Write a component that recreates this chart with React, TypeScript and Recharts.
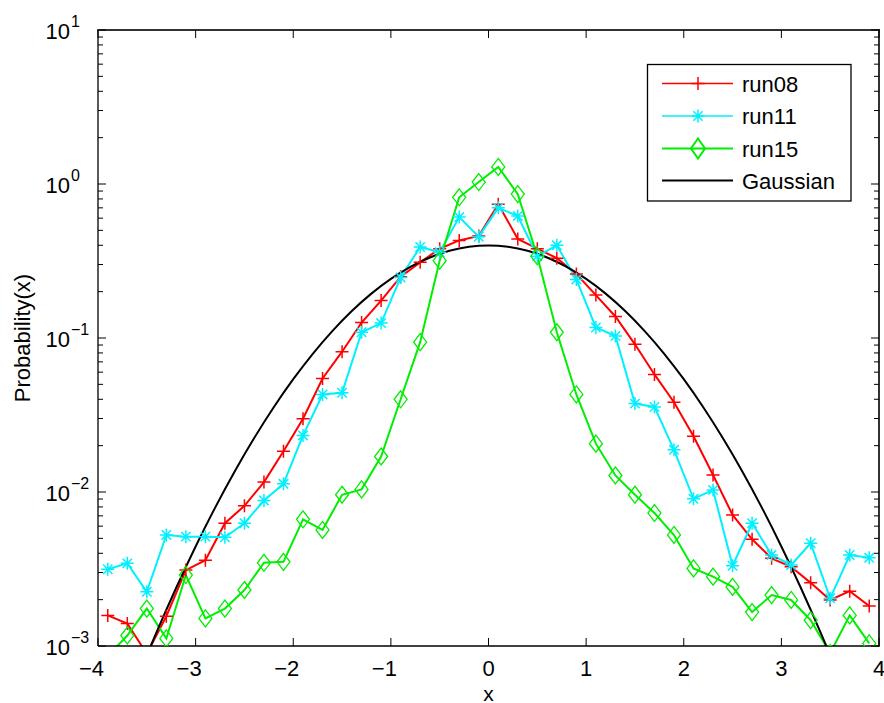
import React from 'react';
import { LineChart, Line, XAxis, YAxis } from 'recharts';

const FONT = '"Liberation Sans", Arial, Helvetica, sans-serif';

const xValues = [
  -3.9, -3.7, -3.5, -3.3, -3.1, -2.9, -2.7, -2.5, -2.3, -2.1,
  -1.9, -1.7, -1.5, -1.3, -1.1, -0.9, -0.7, -0.5, -0.3, -0.1,
  0.1, 0.3, 0.5, 0.7, 0.9, 1.1, 1.3, 1.5, 1.7, 1.9,
  2.1, 2.3, 2.5, 2.7, 2.9, 3.1, 3.3, 3.5, 3.7, 3.9,
];

const run08 = [
  0.00158, 0.0014, 0.00089, 0.00156, 0.00311, 0.00361, 0.00627, 0.00813, 0.0116, 0.0184,
  0.0299, 0.0546, 0.0815, 0.126, 0.175, 0.25, 0.31, 0.38, 0.43, 0.46,
  0.74, 0.44, 0.38, 0.33, 0.26, 0.19, 0.138, 0.091, 0.058, 0.0383,
  0.023, 0.0129, 0.0071, 0.00493, 0.00371, 0.00327, 0.00257, 0.00199, 0.00227, 0.00182,
];

const run11 = [
  0.00315, 0.00344, 0.00225, 0.00526, 0.00513, 0.00513, 0.00508, 0.00627, 0.00881, 0.0113,
  0.0233, 0.043, 0.0441, 0.109, 0.125, 0.247, 0.39, 0.36, 0.61, 0.455,
  0.7, 0.62, 0.34, 0.4, 0.24, 0.117, 0.103, 0.0375, 0.0357, 0.0188,
  0.00904, 0.0103, 0.00332, 0.00627, 0.0039, 0.00336, 0.00465, 0.00204, 0.0039, 0.00374,
];

const run15 = [
  0.00086, 0.00117, 0.00175, 0.00112, 0.00289, 0.00151, 0.00175, 0.00231, 0.00347, 0.00352,
  0.00665, 0.00567, 0.0096, 0.0104, 0.017, 0.04, 0.094, 0.318, 0.82, 1.03,
  1.29, 0.86, 0.34, 0.109, 0.043, 0.0206, 0.0128, 0.0096, 0.0073, 0.00526,
  0.00319, 0.00282, 0.00242, 0.00166, 0.00214, 0.00199, 0.00147, 0.0009, 0.00158, 0.00104,
];

const gaussX = [
  -3.6, -3.4, -3.2, -3.0, -2.8, -2.6, -2.4, -2.2, -2.0, -1.8, -1.6, -1.4, -1.2, -1.0, -0.8, -0.6, -0.4, -0.2,
  0, 0.2, 0.4, 0.6, 0.8, 1.0, 1.2, 1.4, 1.6, 1.8, 2.0, 2.2, 2.4, 2.6, 2.8, 3.0, 3.2, 3.4, 3.6,
];
const gaussY = [
  0.000612, 0.00123, 0.00238, 0.00443, 0.00792, 0.0136, 0.0224, 0.0355, 0.054, 0.079, 0.1109, 0.1497, 0.1942, 0.242, 0.2897, 0.3332, 0.3683, 0.391,
  0.3989, 0.391, 0.3683, 0.3332, 0.2897, 0.242, 0.1942, 0.1497, 0.1109, 0.079, 0.054, 0.0355, 0.0224, 0.0136, 0.00792, 0.00443, 0.00238, 0.00123, 0.000612,
];

const xTicks = [-4, -3, -2, -1, 0, 1, 2, 3, 4];
const yMajorTicks = [0.001, 0.01, 0.1, 1, 10];
const yMinorTicks = [
  0.002, 0.003, 0.004, 0.005, 0.006, 0.007, 0.008, 0.009,
  0.02, 0.03, 0.04, 0.05, 0.06, 0.07, 0.08, 0.09,
  0.2, 0.3, 0.4, 0.5, 0.6, 0.7, 0.8, 0.9,
  2, 3, 4, 5, 6, 7, 8, 9,
];
const yAllTicks = [...yMajorTicks, ...yMinorTicks].sort((a, b) => a - b);

const seriesNames = ['run08', 'run11', 'run15', 'Gaussian'];
const RED = '#ff0000';
const CYAN = '#00f0ff';
const GREEN = '#00ee00';

// layout
const CHART_W = 884;
const CHART_H = 703;
const MARGIN = { top: 30, right: 5, bottom: 0, left: 0 };
const Y_AXIS_W = 98;
const X_AXIS_H = 57;
const PLOT_X = MARGIN.left + Y_AXIS_W;
const PLOT_Y = MARGIN.top;
const PLOT_W = CHART_W - MARGIN.left - MARGIN.right - Y_AXIS_W;
const PLOT_H = CHART_H - MARGIN.top - MARGIN.bottom - X_AXIS_H;
const X_DOMAIN = [-4, 4];
const Y_DOMAIN = [0.001, 10];

// same mappings as the chart's linear x / log y axes (used only for the frame's top/right tick marks)
const frameX = (v: number) => PLOT_X + ((v - X_DOMAIN[0]) / (X_DOMAIN[1] - X_DOMAIN[0])) * PLOT_W;
const frameY = (v: number) =>
  PLOT_Y + PLOT_H - ((Math.log10(v) - Math.log10(Y_DOMAIN[0])) / (Math.log10(Y_DOMAIN[1]) - Math.log10(Y_DOMAIN[0]))) * PLOT_H;

const toPoints = (ys: number[]) => xValues.map((x, i) => ({ x, y: ys[i] }));
const d08 = toPoints(run08);
const d11 = toPoints(run11);
const d15 = toPoints(run15);
const dG = gaussX.map((x, i) => ({ x, y: gaussY[i] }));

const isMajorY = (v: number) => yMajorTicks.some((m) => Math.abs(m - v) / m < 1e-6);
const fmtNum = (v: number) => (v < 0 ? `\u2212${-v}` : `${v}`);

const PlusMark = ({ cx, cy, color, r = 6.5, w = 1.5 }: any) => (
  <path d={`M${cx - r},${cy}H${cx + r}M${cx},${cy - r}V${cy + r}`} stroke={color} strokeWidth={w} fill="none" />
);
const StarMark = ({ cx, cy, color, r = 6.5, w = 1.5 }: any) => {
  const d = r * 0.72;
  return (
    <path
      d={`M${cx - r},${cy}H${cx + r}M${cx},${cy - r}V${cy + r}M${cx - d},${cy - d}L${cx + d},${cy + d}M${cx - d},${cy + d}L${cx + d},${cy - d}`}
      stroke={color}
      strokeWidth={w}
      fill="none"
    />
  );
};
const DiamondMark = ({ cx, cy, color, rx = 6.5, ry = 8.5, w = 1.3 }: any) => (
  <path d={`M${cx},${cy - ry}L${cx + rx},${cy}L${cx},${cy + ry}L${cx - rx},${cy}Z`} stroke={color} strokeWidth={w} fill="none" />
);

const FRAME_T = 1.6;

const LeftTick = (props: any) => {
  const { x, y, payload } = props;
  const v = payload.value;
  const major = isMajorY(v);
  const len = major ? 8 : 5;
  const exp = Math.round(Math.log10(v));
  return (
    <g>
      <line x1={x} y1={y} x2={x + len} y2={y} stroke="#000" strokeWidth={1} />
      {major && (
        <>
          <text x={x - 28} y={y + 8.5} textAnchor="end" fontSize={22} fontFamily={FONT} fill="#000">
            10
          </text>
          <text x={x - 27} y={y - 3.5} textAnchor="start" fontSize={16} fontFamily={FONT} fill="#000">
            {fmtNum(exp)}
          </text>
        </>
      )}
    </g>
  );
};

const BottomTick = (props: any) => {
  const { x, y, payload } = props;
  const v = payload.value;
  return (
    <g>
      <line x1={x} y1={y} x2={x} y2={y - 8} stroke="#000" strokeWidth={1} />
      <text
        x={v < 0 ? x + 6 : x}
        y={y + 30}
        textAnchor={v < 0 ? 'end' : 'middle'}
        fontSize={22}
        fontFamily={FONT}
        fill="#000"
      >
        {fmtNum(v)}
      </text>
    </g>
  );
};

const axisLine = { stroke: '#000', strokeWidth: 1.3 };

const legendRows = [83.5, 116, 148.5, 180.5];

export default function App() {
  return (
    <div style={{ position: 'absolute', left: 0, top: 0, width: CHART_W, height: CHART_H, background: '#fff' }}>
      <LineChart width={CHART_W} height={CHART_H} margin={MARGIN}>
        <XAxis
          dataKey="x"
          type="number"
          domain={X_DOMAIN}
          ticks={xTicks}
          interval={0}
          allowDataOverflow
          height={X_AXIS_H}
          tickSize={0}
          tickMargin={0}
          tickLine={false}
          axisLine={axisLine}
          tick={<BottomTick />}
          label={{
            content: (p: any) => {
              const vb = p.viewBox || { x: PLOT_X, y: PLOT_Y + PLOT_H, width: PLOT_W };
              return (
                <text x={vb.x + vb.width / 2} y={vb.y + 54.5} textAnchor="middle" fontSize={21} fontFamily={FONT} fill="#000">
                  x
                </text>
              );
            },
          }}
        />
        <YAxis
          type="number"
          scale="log"
          domain={Y_DOMAIN}
          ticks={yAllTicks}
          interval={0}
          allowDataOverflow
          width={Y_AXIS_W}
          tickSize={0}
          tickMargin={0}
          tickLine={false}
          axisLine={axisLine}
          tick={<LeftTick />}
          label={{
            content: (p: any) => {
              const vb = p.viewBox || { x: 0, y: PLOT_Y, height: PLOT_H };
              const lx = vb.x + 29.5;
              const ly = vb.y + vb.height / 2;
              return (
                <text
                  x={lx}
                  y={ly}
                  transform={`rotate(-90 ${lx} ${ly})`}
                  textAnchor="middle"
                  fontSize={22}
                  fontFamily={FONT}
                  fill="#000"
                >
                  Probability(x)
                </text>
              );
            },
          }}
        />
        <Line
          data={d08}
          dataKey="y"
          type="linear"
          stroke={RED}
          strokeWidth={2}
          isAnimationActive={false}
          activeDot={false}
          dot={(p: any) => <PlusMark key={`r${p.index}`} cx={p.cx} cy={p.cy} color={RED} />}
        />
        <Line
          data={d11}
          dataKey="y"
          type="linear"
          stroke={CYAN}
          strokeWidth={2}
          isAnimationActive={false}
          activeDot={false}
          dot={(p: any) => <StarMark key={`c${p.index}`} cx={p.cx} cy={p.cy} color={CYAN} />}
        />
        <Line
          data={d15}
          dataKey="y"
          type="linear"
          stroke={GREEN}
          strokeWidth={2}
          isAnimationActive={false}
          activeDot={false}
          dot={(p: any) => <DiamondMark key={`g${p.index}`} cx={p.cx} cy={p.cy} color={GREEN} />}
        />
        <Line
          data={dG}
          dataKey="y"
          type="monotone"
          stroke="#000"
          strokeWidth={2}
          isAnimationActive={false}
          activeDot={false}
          dot={false}
        />
      </LineChart>
      <svg
        width={CHART_W}
        height={CHART_H}
        style={{ position: 'absolute', left: 0, top: 0, pointerEvents: 'none' }}
      >
        {/* frame: top and right edges as filled bars, with inward tick marks */}
        <rect x={PLOT_X - FRAME_T / 2} y={PLOT_Y - FRAME_T / 2} width={PLOT_W + FRAME_T} height={FRAME_T} fill="#000" />
        <rect x={PLOT_X + PLOT_W - FRAME_T / 2} y={PLOT_Y - FRAME_T / 2} width={FRAME_T} height={PLOT_H + FRAME_T} fill="#000" />
        {xTicks.map((t) => (
          <rect key={`tt${t}`} x={frameX(t) - 0.5} y={PLOT_Y} width={1} height={8} fill="#000" />
        ))}
        {yAllTicks.map((t) => (
          <rect
            key={`rt${t}`}
            x={PLOT_X + PLOT_W - (isMajorY(t) ? 8 : 5)}
            y={frameY(t) - 0.5}
            width={isMajorY(t) ? 8 : 5}
            height={1}
            fill="#000"
          />
        ))}
        {/* legend */}
        <rect x={647.5} y={64.5} width={203.5} height={136.5} fill="#fff" stroke="#000" strokeWidth={1.3} />
        <line x1={662} x2={733} y1={legendRows[0]} y2={legendRows[0]} stroke={RED} strokeWidth={1.3} />
        <PlusMark cx={698} cy={legendRows[0]} color={RED} />
        <line x1={662} x2={733} y1={legendRows[1]} y2={legendRows[1]} stroke={CYAN} strokeWidth={1.3} />
        <StarMark cx={698} cy={legendRows[1]} color={CYAN} />
        <line x1={662} x2={733} y1={legendRows[2]} y2={legendRows[2]} stroke={GREEN} strokeWidth={2} />
        <DiamondMark cx={698} cy={legendRows[2]} color={GREEN} rx={7} ry={10} w={2} />
        <line x1={662} x2={733} y1={legendRows[3]} y2={legendRows[3]} stroke="#000" strokeWidth={2} />
        {seriesNames.map((n, i) => (
          <text key={n} x={742} y={legendRows[i] + 8} fontSize={22} fontFamily={FONT} fill="#000">
            {n}
          </text>
        ))}
      </svg>
    </div>
  );
}
